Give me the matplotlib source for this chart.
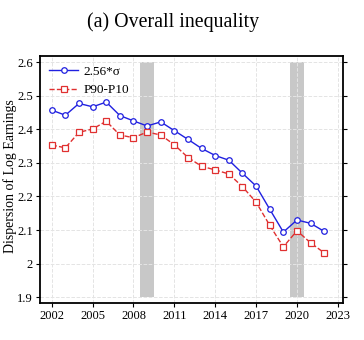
import matplotlib
matplotlib.use("Agg")
import matplotlib.pyplot as plt

plt.rcParams['font.family'] = ['Liberation Serif', 'DejaVu Serif']

years = list(range(2002, 2023))
sigma_256 = [2.457, 2.442, 2.477, 2.467, 2.481, 2.441, 2.425, 2.410, 2.422, 2.396,
             2.370, 2.343, 2.322, 2.308, 2.269, 2.231, 2.162, 2.094, 2.130, 2.120, 2.096]
p90_p10 = [2.353, 2.345, 2.391, 2.401, 2.424, 2.383, 2.375, 2.392, 2.383, 2.354,
           2.316, 2.290, 2.279, 2.267, 2.229, 2.183, 2.114, 2.050, 2.098, 2.062, 2.032]
recessions = [(2008.5, 2009.5), (2019.5, 2020.5)]
xticks = [2002, 2005, 2008, 2011, 2014, 2017, 2020, 2023]
yticks = [1.9, 2.0, 2.1, 2.2, 2.3, 2.4, 2.5, 2.6]
ytick_labels = ["1.9", "2", "2.1", "2.2", "2.3", "2.4", "2.5", "2.6"]

fig = plt.figure(figsize=(3.64, 3.4), dpi=100)
ax = fig.add_axes([0.110, 0.109, 0.832, 0.726])

for x0, x1 in recessions:
    ax.fill_between([x0, x1], 1.9, 2.6, color='#c8c8c8', lw=0, zorder=1)

ax.plot(years, sigma_256, '-', color='#2020e0', lw=1.0, marker='o', ms=4,
        mfc='white', mec='#2020e0', mew=0.9, label='2.56*σ', zorder=3)
ax.plot(years, p90_p10, '--', color='#e03030', lw=1.0, marker='s', ms=3.8,
        mfc='white', mec='#e03030', mew=0.9, label='P90-P10', zorder=3)

ax.set_xlim(2001.14, 2023.37)
ax.set_ylim(1.883, 2.618)
ax.set_xticks(xticks)
ax.set_yticks(yticks)
ax.set_yticklabels(ytick_labels)
ax.grid(True, ls='--', color='#e4e4e4', lw=0.7, zorder=0)
ax.tick_params(labelsize=9, length=3, width=0.8, pad=2)
ax.tick_params(axis='y', right=True, direction='out')

for s in ax.spines.values():
    s.set_linewidth(1.3)
    s.set_color('black')

fig.text(0.027, 0.482, 'Dispersion of Log Earnings', rotation=90,
         ha='center', va='center', fontsize=10)
fig.text(0.475, 0.935, '(a) Overall inequality', ha='center', va='center',
         fontsize=14.3)

ax.legend(loc='upper left', frameon=False, fontsize=9.5, handlelength=2.2,
          borderaxespad=0.3, labelspacing=0.5, handletextpad=0.4)

fig.savefig('out.png', dpi=100)
